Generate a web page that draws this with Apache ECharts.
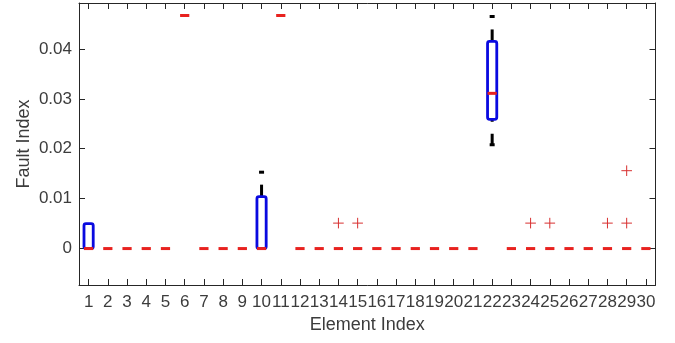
<!DOCTYPE html>
<html>
<head>
<meta charset="utf-8">
<script src="https://cdn.jsdelivr.net/npm/echarts@6/dist/echarts.min.js"></script>
<style>
html,body{margin:0;padding:0;background:#fff;}
#chart{width:675px;height:343px;}
</style>
</head>
<body>
<div id="chart"></div>
<script>
const elements = ['1','2','3','4','5','6','7','8','9','10','11','12','13','14','15','16','17','18','19','20','21','22','23','24','25','26','27','28','29','30'];
const lowerWhisker = [0,0,0,0,0,0.0467,0,0,0,0,0.0467,0,0,0,0,0,0,0,0,0,0,0.0206,0,0,0,0,0,0,0,0];
const q1Values     = [0,0,0,0,0,0.0467,0,0,0,0,0.0467,0,0,0,0,0,0,0,0,0,0,0.0259,0,0,0,0,0,0,0,0];
const medianValues = [0,0,0,0,0,0.0467,0,0,0,0,0.0467,0,0,0,0,0,0,0,0,0,0,0.0311,0,0,0,0,0,0,0,0];
const q3Values     = [0.0050,0,0,0,0,0.0467,0,0,0,0.0104,0.0467,0,0,0,0,0,0,0,0,0,0,0.0415,0,0,0,0,0,0,0,0];
const upperWhisker = [0.0050,0,0,0,0,0.0467,0,0,0,0.0155,0.0467,0,0,0,0,0,0,0,0,0,0,0.0467,0,0,0,0,0,0,0,0];
const outlierElements = ['14','15','24','25','28','29','29'];
const outlierValues   = [0.0051,0.0051,0.0051,0.0051,0.0051,0.0051,0.0156];
const yTicks = [0, 0.01, 0.02, 0.03, 0.04];
const yMin = -0.0073, yMax = 0.0492;

const boxData = elements.map((e, i) => [e, lowerWhisker[i], q1Values[i], medianValues[i], q3Values[i], upperWhisker[i]]);
const outlierData = outlierElements.map((e, i) => [e, outlierValues[i]]);

const FONT = '"Liberation Sans", Arial, Helvetica, sans-serif';
const TXT = '#3c3c3c';
const AX = '#262626';

const chart = echarts.init(document.getElementById('chart'), null, {renderer: 'canvas'});
chart.setOption({
  animation: false,
  backgroundColor: '#ffffff',
  grid: {left: 79, right: 19.5, top: 3, bottom: 58, containLabel: false},
  xAxis: [{
    type: 'category', data: elements, position: 'bottom', boundaryGap: true,
    name: 'Element Index', nameLocation: 'middle', nameGap: 29,
    nameTextStyle: {fontFamily: FONT, fontSize: 18, color: TXT},
    axisLine: {show: true, onZero: false, lineStyle: {color: AX, width: 1}},
    axisTick: {show: true, inside: true, alignWithLabel: true, length: 6, interval: 0, lineStyle: {color: AX}},
    axisLabel: {show: true, interval: 0, margin: 9, fontFamily: FONT, fontSize: 17, color: TXT},
    splitLine: {show: false}
  }, {
    type: 'category', data: elements, position: 'top', boundaryGap: true,
    axisLine: {show: true, onZero: false, lineStyle: {color: AX, width: 1}},
    axisTick: {show: true, inside: true, alignWithLabel: true, length: 6, interval: 0, lineStyle: {color: AX}},
    axisLabel: {show: false},
    splitLine: {show: false}
  }],
  yAxis: [{
    type: 'value', min: yMin, max: yMax, position: 'left',
    name: 'Fault Index', nameLocation: 'middle', nameGap: 46, nameRotate: 90, nameMoveOverlap: false,
    nameTextStyle: {fontFamily: FONT, fontSize: 18, color: TXT},
    axisLine: {show: true, onZero: false, lineStyle: {color: AX, width: 1}},
    axisTick: {show: true, inside: true, length: 6, customValues: yTicks, lineStyle: {color: AX}},
    axisLabel: {show: true, margin: 7, customValues: yTicks, fontFamily: FONT, fontSize: 17, color: TXT,
      formatter: v => String(Math.round(v * 100) / 100)},
    splitLine: {show: false}
  }, {
    type: 'value', min: yMin, max: yMax, position: 'right',
    axisLine: {show: true, onZero: false, lineStyle: {color: AX, width: 1}},
    axisTick: {show: true, inside: true, length: 6, customValues: yTicks, lineStyle: {color: AX}},
    axisLabel: {show: false},
    splitLine: {show: false}
  }],
  series: [{
    type: 'custom',
    xAxisIndex: 0, yAxisIndex: 0,
    data: boxData,
    encode: {x: 0, y: [1, 2, 3, 4, 5]},
    renderItem: function (params, api) {
      const cat = api.value(0);
      const lo = api.value(1), a = api.value(2), m = api.value(3), b = api.value(4), hi = api.value(5);
      const band = api.size([1, 0])[0];
      const hw = band * 0.24;
      const pM = api.coord([cat, m]);
      const cx = pM[0];
      const children = [];
      if (b > a) {
        const pA = api.coord([cat, a]);
        const pB = api.coord([cat, b]);
        if (hi > b) {
          const pH = api.coord([cat, hi]);
          children.push({type: 'line', shape: {x1: cx, y1: pB[1], x2: cx, y2: pH[1]},
            style: {stroke: '#000', lineWidth: 3, lineDash: [12, 12]}});
          children.push({type: 'line', shape: {x1: cx - 2.5, y1: pH[1] + 1, x2: cx + 2.5, y2: pH[1] + 1},
            style: {stroke: '#000', lineWidth: 3}});
        }
        if (lo < a) {
          const pL = api.coord([cat, lo]);
          children.push({type: 'line', shape: {x1: cx, y1: pL[1], x2: cx, y2: pA[1]},
            style: {stroke: '#000', lineWidth: 3, lineDash: [12, 12]}});
          children.push({type: 'line', shape: {x1: cx - 2.5, y1: pL[1] - 1, x2: cx + 2.5, y2: pL[1] - 1},
            style: {stroke: '#000', lineWidth: 3}});
        }
        children.push({type: 'rect', shape: {x: cx - hw, y: pB[1], width: 2 * hw, height: pA[1] - pB[1], r: 2},
          style: {fill: 'none', stroke: '#0a0ae0', lineWidth: 2.8, lineJoin: 'round'}});
      }
      children.push({type: 'line', shape: {x1: cx - hw, y1: pM[1], x2: cx + hw, y2: pM[1]},
        style: {stroke: '#e8221f', lineWidth: 3}});
      return {type: 'group', children: children};
    },
    z: 3
  }, {
    type: 'custom',
    xAxisIndex: 0, yAxisIndex: 0,
    data: outlierData,
    encode: {x: 0, y: 1},
    renderItem: function (params, api) {
      const p = api.coord([api.value(0), api.value(1)]);
      const s = 5.3;
      return {type: 'group', children: [
        {type: 'line', shape: {x1: p[0] - s, y1: p[1], x2: p[0] + s, y2: p[1]}, style: {stroke: '#d83030', lineWidth: 1}},
        {type: 'line', shape: {x1: p[0], y1: p[1] - s, x2: p[0], y2: p[1] + s}, style: {stroke: '#d83030', lineWidth: 1}}
      ]};
    },
    z: 4
  }]
});
</script>
</body>
</html>
